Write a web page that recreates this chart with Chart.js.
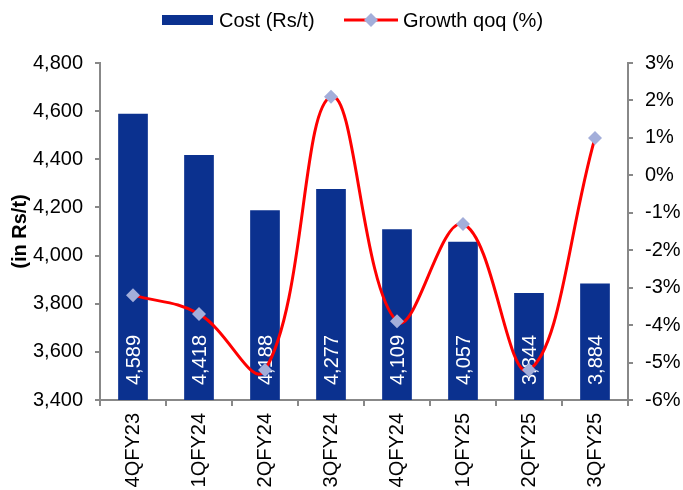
<!DOCTYPE html>
<html>
<head>
<meta charset="utf-8">
<script src="https://cdn.jsdelivr.net/npm/chart.js@4.4.1/dist/chart.umd.min.js"></script>
<style>
  body { margin: 0; background: #fff; }
  #wrap { width: 683px; height: 490px; }
</style>
</head>
<body>
<div id="wrap"><canvas id="costChart" width="683" height="490"></canvas></div>
<script>
// データ
const quarters = ['4QFY23', '1QFY24', '2QFY24', '3QFY24', '4QFY24', '1QFY25', '2QFY25', '3QFY25'];
const costValues = [4589, 4418, 4188, 4277, 4109, 4057, 3844, 3884];
const growthValues = [-3.2, -3.7, -5.2, 2.1, -3.9, -1.3, -5.2, 1.0];

const FONT = "'Liberation Sans', Arial, sans-serif";
const BAR_COLOR = '#0B318F';
const LINE_COLOR = '#FF0000';
const MARKER_COLOR = '#A3AEDA';
const AXIS_COLOR = '#888888';

function fmt(v) {
    return String(v).replace(/\B(?=(\d{3})+(?!\d))/g, ',');
}

// 棒の中の数値ラベル（縦書き、白）: 折れ線の直前に描く
const barLabelPlugin = {
    id: 'barLabels',
    beforeDatasetDraw(chart, args) {
        if (args.meta.type !== 'line') return;
        const c = chart.ctx;
        const barMeta = chart.getDatasetMeta(0);
        // base は値0の位置なので、表示上の棒の下端は軸の下端
        const bottom = chart.chartArea.bottom;
        c.save();
        c.fillStyle = '#ffffff';
        c.font = '20px ' + FONT;
        c.textAlign = 'left';
        c.textBaseline = 'middle';
        barMeta.data.forEach((bar, i) => {
            c.save();
            c.translate(bar.x, Math.min(bar.base, bottom) - 15);
            c.rotate(-Math.PI / 2);
            c.fillText(fmt(costValues[i]), 0, 1);
            c.restore();
        });
        c.restore();
    }
};

// 凡例（上部）
const legendPlugin = {
    id: 'topLegend',
    afterDraw(chart) {
        const c = chart.ctx;
        c.save();
        c.font = '20px ' + FONT;
        c.textBaseline = 'middle';
        c.fillStyle = BAR_COLOR;
        c.fillRect(162, 15, 51, 10);
        c.fillStyle = '#000';
        c.fillText('Cost (Rs/t)', 219, 21);
        c.strokeStyle = LINE_COLOR;
        c.lineWidth = 3;
        c.beginPath();
        c.moveTo(344, 20);
        c.lineTo(398, 20);
        c.stroke();
        c.fillStyle = MARKER_COLOR;
        c.beginPath();
        c.moveTo(371, 13);
        c.lineTo(378, 20);
        c.lineTo(371, 27);
        c.lineTo(364, 20);
        c.closePath();
        c.fill();
        c.fillStyle = '#000';
        c.fillText('Growth qoq (%)', 403, 21);
        c.restore();
    }
};

const ctx = document.getElementById('costChart').getContext('2d');
const costChart = new Chart(ctx, {
    data: {
        labels: quarters,
        datasets: [{
            type: 'bar',
            label: 'Cost (Rs/t)',
            data: costValues,
            backgroundColor: BAR_COLOR,
            yAxisID: 'y',
            categoryPercentage: 1,
            barPercentage: 0.45,
            order: 1
        }, {
            type: 'line',
            label: 'Growth qoq (%)',
            data: growthValues,
            borderColor: LINE_COLOR,
            borderWidth: 3,
            tension: 0.4,
            pointStyle: 'rectRot',
            pointRadius: 7,
            pointBackgroundColor: MARKER_COLOR,
            pointBorderColor: MARKER_COLOR,
            pointBorderWidth: 0,
            yAxisID: 'y1',
            order: 0
        }]
    },
    options: {
        responsive: false,
        animation: false,
        layout: { padding: { top: 63, right: 0, left: 0, bottom: 0 } },
        plugins: {
            legend: { display: false },
            title: { display: false },
            tooltip: { enabled: false }
        },
        scales: {
            x: {
                offset: true,
                grid: { offset: true, drawOnChartArea: false, tickLength: 6, color: AXIS_COLOR, lineWidth: 2 },
                border: { display: true, color: AXIS_COLOR, width: 2 },
                ticks: { color: '#000', font: { family: FONT, size: 20 }, maxRotation: 90, minRotation: 90, padding: 7 },
                afterFit(scale) { scale.height = 90; }
            },
            y: {
                position: 'left',
                min: 3400,
                max: 4800,
                ticks: {
                    stepSize: 200,
                    color: '#000',
                    font: { family: FONT, size: 20 },
                    padding: 12,
                    callback: v => fmt(v)
                },
                grid: { drawOnChartArea: false, tickLength: 5, color: AXIS_COLOR, lineWidth: 2 },
                border: { display: true, color: AXIS_COLOR, width: 2 },
                title: {
                    display: true,
                    text: '(in Rs/t)',
                    color: '#000',
                    font: { family: FONT, size: 20, weight: 'bold' },
                    padding: { top: 8, bottom: 0 }
                },
                afterFit(scale) { scale.width = 100; }
            },
            y1: {
                position: 'right',
                min: -6,
                max: 3,
                ticks: {
                    stepSize: 1,
                    color: '#000',
                    font: { family: FONT, size: 20 },
                    padding: 12,
                    callback: v => v + '%'
                },
                grid: { drawOnChartArea: false, tickLength: 5, color: AXIS_COLOR, lineWidth: 2 },
                border: { display: true, color: AXIS_COLOR, width: 2 },
                afterFit(scale) { scale.width = 55; }
            }
        }
    },
    plugins: [barLabelPlugin, legendPlugin]
});
</script>
</body>
</html>
